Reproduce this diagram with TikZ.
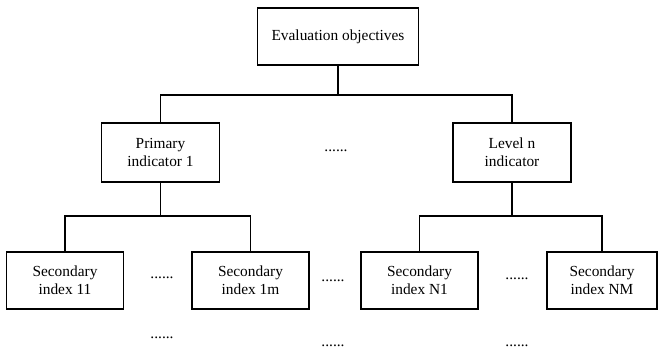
\documentclass[tikz,border=0pt]{standalone}
\usepackage{fontspec}
\setmainfont{Liberation Serif}
\usepackage{tikz}

\begin{document}
\begin{tikzpicture}[x=0.65pt,y=-0.65pt,
  box/.style={draw, line width=1pt, align=center, inner sep=2pt,
    font=\fontsize{10}{11.5}\selectfont},
  dots/.style={inner sep=0pt, font=\fontsize{10}{11.5}\selectfont},
  link/.style={line width=1pt}]

	\useasboundingbox (0,0) rectangle (658,350);

	\node[box, minimum width=104.7pt, minimum height=37pt] (goal) at (338,36.5) {Evaluation objectives};

	\node[box, minimum width=76.7pt, minimum height=38.4pt] (prim) at (160.5,152.5) {Primary\\indicator 1};
	\node[box, minimum width=76.7pt, minimum height=38.4pt] (leveln) at (512,152.5) {Level n\\indicator};

	\node[box, minimum width=76pt, minimum height=37pt] (sec11) at (65,280.5) {Secondary\\index 11};
	\node[box, minimum width=76pt, minimum height=37pt] (sec1m) at (250.5,280.5) {Secondary\\index 1m};
	\node[box, minimum width=76pt, minimum height=37pt] (secN1) at (419.5,280.5) {Secondary\\index N1};
	\node[box, minimum width=71.5pt, minimum height=37pt] (secNM) at (602,280.5) {Secondary\\index NM};

	\coordinate (busA) at (0,95);
	\coordinate (busB) at (0,216);

	\draw[link] (goal.south) -- (goal.south |- busA) -| (prim.north);
	\draw[link] (goal.south |- busA) -| (leveln.north);

	\draw[link] (prim.south) -- (prim.south |- busB) -| (sec11.north);
	\draw[link] (prim.south |- busB) -| (sec1m.north);
	\draw[link] (leveln.south) -- (leveln.south |- busB) -| (secN1.north);
	\draw[link] (leveln.south |- busB) -| (secNM.north);

	\node[dots] (dotsTop) at (336,151) {......};
	\node[dots] (dotsA) at (162,278) {......};
	\node[dots] (dotsB) at (333,281) {......};
	\node[dots] (dotsC) at (517,279) {......};
	\node[dots] (dotsD) at (162,338) {......};
	\node[dots] (dotsE) at (333,346) {......};
	\node[dots] (dotsF) at (517,346) {......};
\end{tikzpicture}
\end{document}
